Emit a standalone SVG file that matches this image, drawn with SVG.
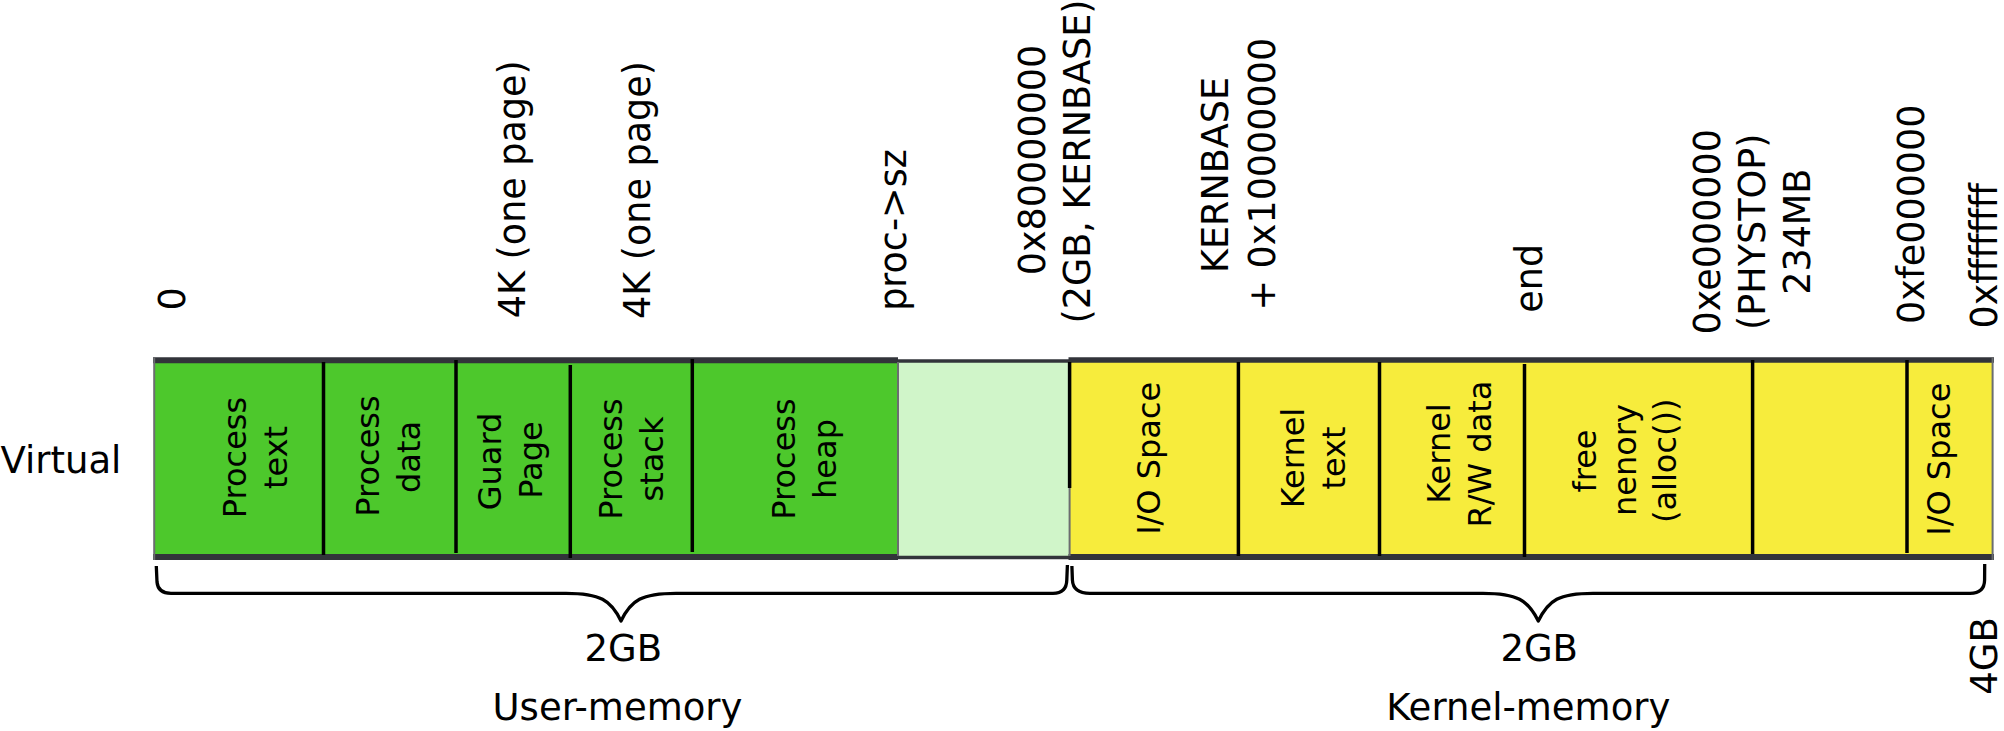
<svg xmlns="http://www.w3.org/2000/svg" width="2004" height="731" viewBox="0 0 2004 731">
<style>
text{font-family:"DejaVu Sans","Liberation Sans",sans-serif;fill:#000}
.cell{font-size:32px;text-anchor:middle}
.lbl{font-size:36.5px;text-anchor:middle}
.h{font-size:37px}
.div{stroke:#000;stroke-width:3.5;fill:none}
.edge{stroke:#32343a;fill:none}
.thin{stroke:#6b6d70;stroke-width:2;fill:none}
.brace{stroke:#000;stroke-width:3.3;fill:none;stroke-linejoin:round}
</style>
<rect width="2004" height="731" fill="#fff"/>

<g id="bar">
  <rect x="154" y="360" width="744" height="197" fill="#4dc82c"/>
  <rect x="898" y="360" width="171.6" height="197" fill="#d0f5c9"/>
  <rect x="1069.6" y="360" width="923" height="197" fill="#f7ec3c"/>
  <line class="edge" x1="153" y1="360.3" x2="898" y2="360.3" stroke-width="6"/>
  <line class="edge" x1="153" y1="557" x2="898" y2="557" stroke-width="6"/>
  <line class="edge" x1="898" y1="361" x2="1069.6" y2="361" stroke-width="3.3"/>
  <line class="edge" x1="898" y1="557.5" x2="1069.6" y2="557.5" stroke-width="3.3"/>
  <line class="edge" x1="1068.5" y1="360" x2="1994" y2="360" stroke-width="5.5"/>
  <line class="edge" x1="1068.5" y1="557" x2="1994" y2="557" stroke-width="6"/>
  <line class="thin" x1="154.2" y1="357.5" x2="154.2" y2="560"/>
  <line class="thin" x1="1992.6" y1="357.5" x2="1992.6" y2="560"/>
  <line class="thin" x1="898" y1="362" x2="898" y2="556" stroke-width="1.5"/>
  <line class="thin" x1="1069.6" y1="486" x2="1069.6" y2="556" stroke-width="1.5"/>
</g>

<g id="dividers">
  <line class="div" x1="323.5" y1="362" x2="323.5" y2="555"/>
  <line class="div" x1="456" y1="360" x2="456" y2="553"/>
  <line class="div" x1="570.3" y1="365" x2="570.3" y2="558"/>
  <line class="div" x1="692.3" y1="359" x2="692.3" y2="552"/>
  <line class="div" x1="1069.6" y1="362" x2="1069.6" y2="488"/>
  <line class="div" x1="1238.4" y1="362" x2="1238.4" y2="556"/>
  <line class="div" x1="1379.5" y1="362" x2="1379.5" y2="556"/>
  <line class="div" x1="1524.5" y1="364" x2="1524.5" y2="557"/>
  <line class="div" x1="1752.6" y1="360" x2="1752.6" y2="554"/>
  <line class="div" x1="1907" y1="360" x2="1907" y2="553"/>
</g>

<g id="process-text">
  <text class="cell" transform="translate(245.5,457.5) rotate(-90)">Process</text>
  <text class="cell" transform="translate(286.5,457.5) rotate(-90)">text</text>
</g>
<g id="process-data">
  <text class="cell" transform="translate(378.5,456) rotate(-90)">Process</text>
  <text class="cell" transform="translate(419.5,457) rotate(-90)">data</text>
</g>
<g id="guard-page">
  <text class="cell" transform="translate(501,461.5) rotate(-90)">Guard</text>
  <text class="cell" transform="translate(542,460) rotate(-90)">Page</text>
</g>
<g id="process-stack">
  <text class="cell" transform="translate(621.5,459) rotate(-90)">Process</text>
  <text class="cell" transform="translate(662.5,459) rotate(-90)">stack</text>
</g>
<g id="process-heap">
  <text class="cell" transform="translate(795,459) rotate(-90)">Process</text>
  <text class="cell" transform="translate(836,459) rotate(-90)">heap</text>
</g>
<g id="io-space-low">
  <text class="cell" transform="translate(1160,458.3) rotate(-90)">I/O Space</text>
</g>
<g id="kernel-text">
  <text class="cell" transform="translate(1303.5,458) rotate(-90)">Kernel</text>
  <text class="cell" transform="translate(1344.5,458) rotate(-90)">text</text>
</g>
<g id="kernel-rw-data">
  <text class="cell" transform="translate(1450,453.5) rotate(-90)">Kernel</text>
  <text class="cell" transform="translate(1491,454) rotate(-90)">R/W data</text>
</g>
<g id="free-memory">
  <text class="cell" transform="translate(1596,461) rotate(-90)">free</text>
  <text class="cell" transform="translate(1636,460) rotate(-90)">nenory</text>
  <text class="cell" transform="translate(1676,460.8) rotate(-90)">(alloc())</text>
</g>
<g id="io-space-high">
  <text class="cell" transform="translate(1950,459.2) rotate(-90)">I/O Space</text>
</g>

<g id="addresses">
  <text class="lbl" transform="translate(185,299) rotate(-90)">0</text>
  <text class="lbl" transform="translate(524.5,189.2) rotate(-90)">4K (one page)</text>
  <text class="lbl" transform="translate(649.5,190) rotate(-90)">4K (one page)</text>
  <text class="lbl" transform="translate(906,230) rotate(-90)">proc-&gt;sz</text>
  <text class="lbl" transform="translate(1045,160) rotate(-90)">0x80000000</text>
  <text class="lbl" transform="translate(1089.7,161.5) rotate(-90)">(2GB, KERNBASE)</text>
  <text class="lbl" transform="translate(1228,175) rotate(-90)">KERNBASE</text>
  <text class="lbl" transform="translate(1275,174.2) rotate(-90)">+ 0x10000000</text>
  <text class="lbl" transform="translate(1542.4,278.3) rotate(-90)">end</text>
  <text class="lbl" transform="translate(1719.5,231.7) rotate(-90)">0xe000000</text>
  <text class="lbl" transform="translate(1764.7,231.7) rotate(-90)">(PHYSTOP)</text>
  <text class="lbl" transform="translate(1809.6,231.7) rotate(-90)">234MB</text>
  <text class="lbl" transform="translate(1924,214.2) rotate(-90)">0xfe000000</text>
  <text class="lbl" transform="translate(1996.5,255.8) rotate(-90)">0xffffffff</text>
</g>

<g id="virtual-label">
  <text class="h" x="0.5" y="472.7">Virtual</text>
</g>

<g id="braces">
  <path class="brace" d="M156.3 566 L157 582 Q158 593.3 171 593.3 L566 593.3 C600 593.3 611 600 621 621 C631 600 642 593.3 676 593.3 L1053 593.3 Q1066.5 593.3 1066.8 580 L1067.4 565"/>
  <path class="brace" d="M1071.9 566 L1072.4 580 Q1073 593.3 1090 593.3 L1483 593.3 C1517 593.3 1528 600 1538.3 621 C1548.6 600 1559 593.3 1593 593.3 L1970 593.3 Q1984.4 593.3 1984.6 580 L1984.7 564"/>
</g>

<g id="user-memory">
  <text class="h" x="623.3" y="660.7" text-anchor="middle">2GB</text>
  <text class="h" x="617.5" y="720" text-anchor="middle">User-memory</text>
</g>
<g id="kernel-memory">
  <text class="h" x="1539.2" y="660.7" text-anchor="middle">2GB</text>
  <text class="h" x="1528.3" y="720" text-anchor="middle">Kernel-memory</text>
  <text class="h" text-anchor="middle" transform="translate(1997,656) rotate(-90)">4GB</text>
</g>
</svg>
